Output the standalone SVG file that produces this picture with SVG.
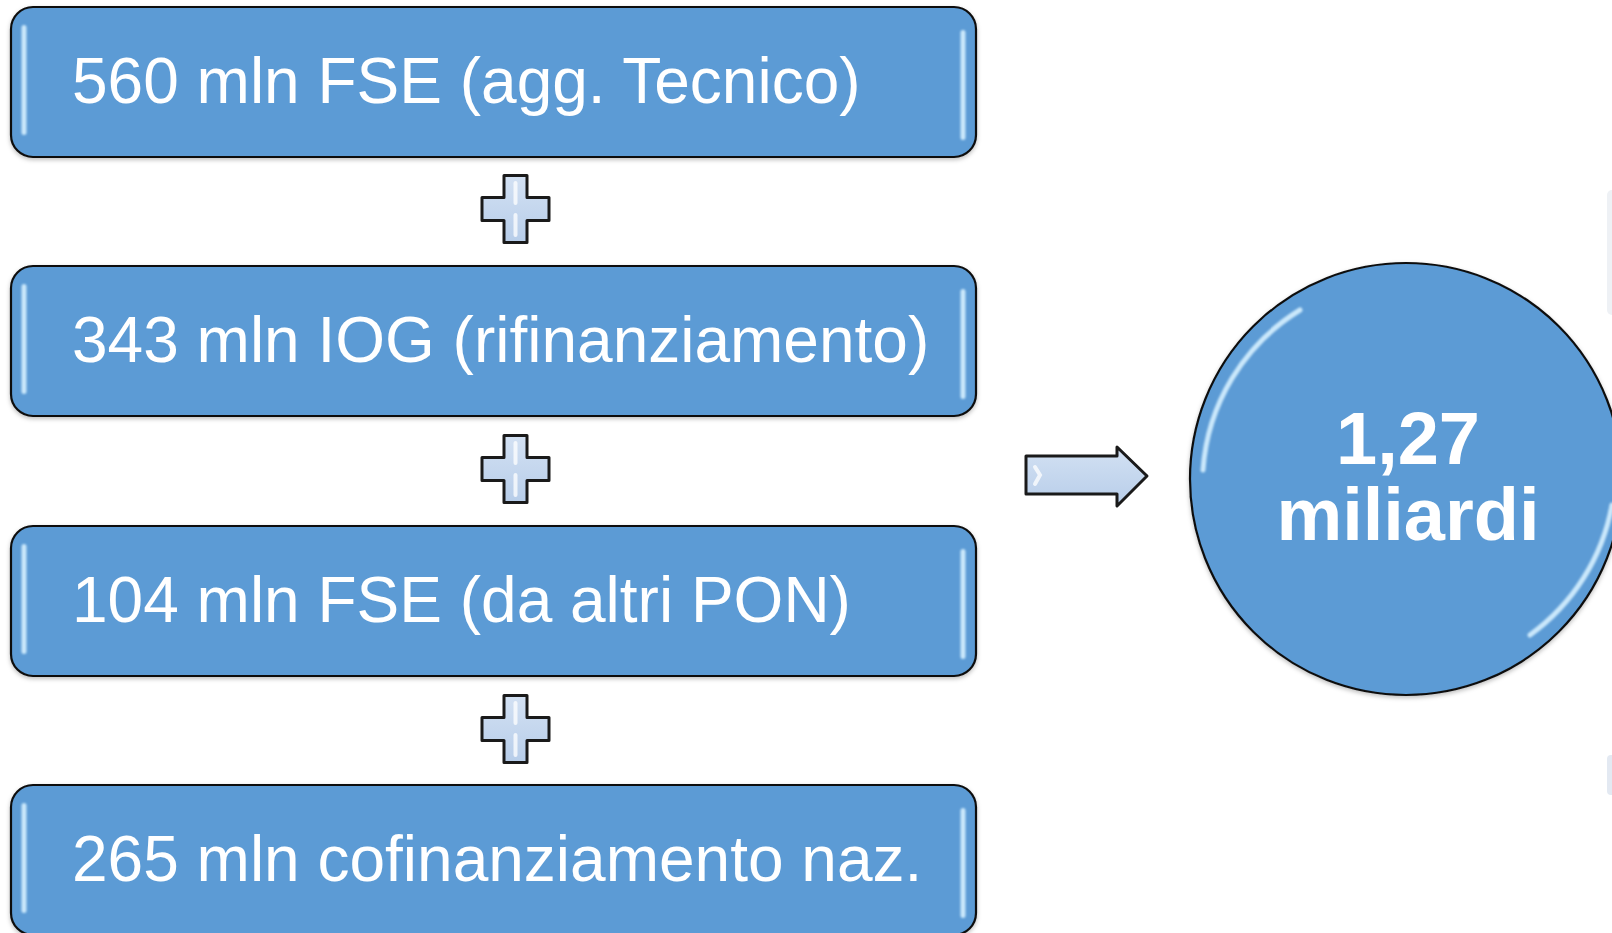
<svg xmlns="http://www.w3.org/2000/svg" width="1612" height="933" viewBox="0 0 1612 933">
<style>
.box{fill:#5B9BD5;stroke:#111;stroke-width:2.2}
.hl{fill:#d6f1ff;fill-opacity:0.9}
.lbl{font-family:"Liberation Sans",Arial,sans-serif;font-size:64px;fill:#fff}
.big{font-family:"Liberation Sans",Arial,sans-serif;font-size:74px;font-weight:bold;fill:#fff;text-anchor:middle}
.op{fill:url(#opg);stroke:#1a1a1a;stroke-width:3;stroke-linejoin:round}
.ophl{fill:none;stroke:#ffffff;stroke-opacity:0.75;stroke-width:4;stroke-linecap:round}
</style>
<defs>
<linearGradient id="opg" x1="0" y1="0" x2="0" y2="1">
<stop offset="0" stop-color="#d3e1f3"/>
<stop offset="1" stop-color="#b7cde9"/>
</linearGradient>
<filter id="sh" x="-5%" y="-5%" width="110%" height="115%">
<feDropShadow dx="0" dy="2" stdDeviation="2" flood-color="#000" flood-opacity="0.25"/>
</filter>
<filter id="blur" x="-50%" y="-20%" width="200%" height="140%">
<feGaussianBlur stdDeviation="1.2"/>
</filter>
</defs>
<rect width="1612" height="933" fill="#fff"/>
<rect x="1607" y="190" width="10" height="125" rx="5" fill="#eef1f5"/>
<rect x="1607" y="755" width="10" height="40" rx="4" fill="#e3e9f2"/>

<g id="box1">
<rect class="box" x="11" y="7" width="965" height="150" rx="22" filter="url(#sh)"/>
<rect class="hl" x="21.5" y="25" width="5" height="110" rx="2.5" filter="url(#blur)"/>
<rect class="hl" x="960.5" y="30" width="5" height="110" rx="2.5" filter="url(#blur)"/>
<text class="lbl" x="72" y="103">560 mln FSE (agg. Tecnico)</text>
</g>
<g id="box2">
<rect class="box" x="11" y="266" width="965" height="150" rx="22" filter="url(#sh)"/>
<rect class="hl" x="21.5" y="284" width="5" height="110" rx="2.5" filter="url(#blur)"/>
<rect class="hl" x="960.5" y="289" width="5" height="110" rx="2.5" filter="url(#blur)"/>
<text class="lbl" x="72" y="362">343 mln IOG (rifinanziamento)</text>
</g>
<g id="box3">
<rect class="box" x="11" y="526" width="965" height="150" rx="22" filter="url(#sh)"/>
<rect class="hl" x="21.5" y="544" width="5" height="110" rx="2.5" filter="url(#blur)"/>
<rect class="hl" x="960.5" y="549" width="5" height="110" rx="2.5" filter="url(#blur)"/>
<text class="lbl" x="72" y="622">104 mln FSE (da altri PON)</text>
</g>
<g id="box4">
<rect class="box" x="11" y="785" width="965" height="150" rx="22" filter="url(#sh)"/>
<rect class="hl" x="21.5" y="803" width="5" height="110" rx="2.5" filter="url(#blur)"/>
<rect class="hl" x="960.5" y="808" width="5" height="110" rx="2.5" filter="url(#blur)"/>
<text class="lbl" x="72" y="881">265 mln cofinanziamento naz.</text>
</g>

<g id="connectors">
<g id="plus1" transform="translate(515.5 209)">
<path class="op" d="M-11.5 -33.5 H11.5 V-11.5 H33.5 V11.5 H11.5 V33.5 H-11.5 V11.5 H-33.5 V-11.5 H-11.5 Z"/>
<path class="ophl" d="M0 -26 V-6 M0 6 V26"/>
</g>
<g id="plus2" transform="translate(515.5 469)">
<path class="op" d="M-11.5 -33.5 H11.5 V-11.5 H33.5 V11.5 H11.5 V33.5 H-11.5 V11.5 H-33.5 V-11.5 H-11.5 Z"/>
<path class="ophl" d="M0 -26 V-6 M0 6 V26"/>
</g>
<g id="plus3" transform="translate(515.5 729)">
<path class="op" d="M-11.5 -33.5 H11.5 V-11.5 H33.5 V11.5 H11.5 V33.5 H-11.5 V11.5 H-33.5 V-11.5 H-11.5 Z"/>
<path class="ophl" d="M0 -26 V-6 M0 6 V26"/>
</g>
<g id="arrow">
<path class="op" d="M1026 456 H1117 V447 L1147 476 L1117 506 V494 H1026 Z"/>
<path class="ophl" d="M1035 467 L1040 475 L1035 484"/>
</g>
</g>

<g id="total">
<circle cx="1406" cy="479" r="216" fill="#5B9BD5" stroke="#111" stroke-width="2.2" filter="url(#sh)"/>
<path d="M1300 310 A204 204 0 0 0 1203 470" fill="none" stroke="#d6f1ff" stroke-opacity="0.9" stroke-width="5" stroke-linecap="round" filter="url(#blur)"/>
<path d="M1612 505 A206 206 0 0 1 1530 635" fill="none" stroke="#d6f1ff" stroke-opacity="0.9" stroke-width="5" stroke-linecap="round" filter="url(#blur)"/>
<text class="big" x="1408" y="464">1,27</text>
<text class="big" x="1408" y="540">miliardi</text>
</g>
</svg>
